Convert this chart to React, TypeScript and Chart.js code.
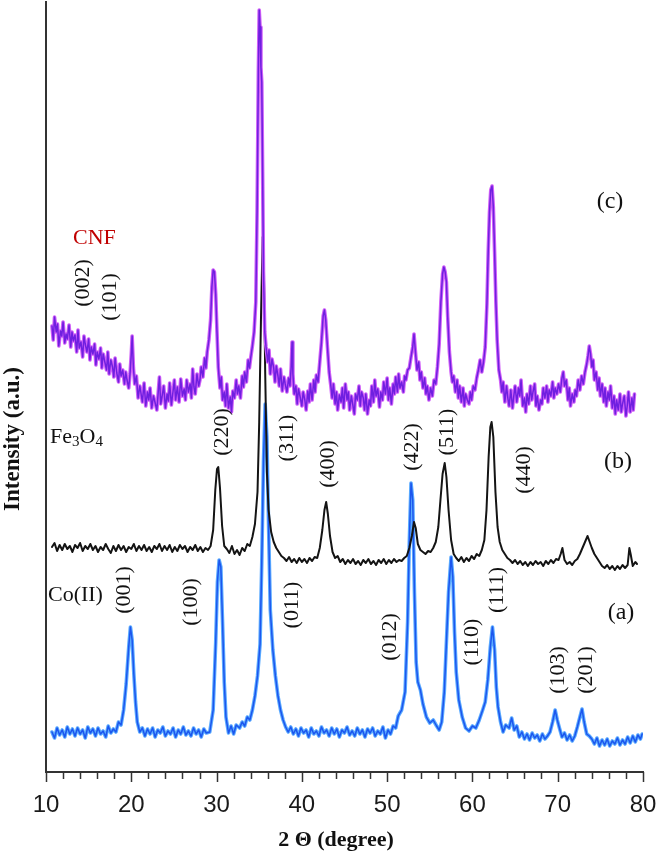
import React, { useEffect, useRef } from "react";
import { Chart, registerables } from "chart.js";

Chart.register(...registerables);

// ---- Data (2θ in degrees, intensity in arbitrary units) ----
const X_MIN = 10;
const X_MAX = 80;
const X_MAJOR = 10;
const X_MINOR = 2;
const Y_MIN = 0;
const Y_MAX = 770;

const coII: [number, number][] = [
  [10.7,40],[11.0,34],[11.3,44],[11.6,37],[11.9,42],[12.2,35],[12.5,45],[12.8,38],[13.1,43],[13.4,36],[13.7,44],[14.0,38],[14.3,42],[14.6,34],[14.9,45],[15.2,39],[15.5,43],[15.8,36],[16.1,44],[16.4,38],[16.7,41],[17.0,35],[17.3,46],[17.6,39],[17.9,43],[18.2,40],[18.5,50],[18.8,47],[19.1,62],[19.4,88],[19.7,125],[19.9,145],[20.1,132],[20.3,98],[20.5,70],[20.7,50],[21.0,40],[21.3,44],[21.6,36],[21.9,43],[22.2,38],[22.5,44],[22.8,35],[23.1,42],[23.4,39],[23.7,45],[24.0,36],[24.3,41],[24.6,38],[24.9,44],[25.2,35],[25.5,42],[25.8,38],[26.1,45],[26.4,37],[26.7,41],[27.0,36],[27.3,44],[27.6,38],[27.9,42],[28.2,35],[28.5,43],[28.8,39],[29.2,40],[29.6,62],[29.9,130],[30.1,190],[30.3,212],[30.5,205],[30.7,150],[30.9,90],[31.1,55],[31.4,39],[31.7,46],[32.0,38],[32.3,47],[32.7,44],[33.0,50],[33.3,46],[33.6,55],[33.9,52],[34.2,62],[34.5,76],[34.8,96],[35.1,128],[35.3,210],[35.5,310],[35.7,368],[35.9,335],[36.1,245],[36.3,162],[36.6,122],[36.9,96],[37.2,76],[37.5,62],[37.8,52],[38.1,45],[38.4,40],[38.7,45],[39.0,38],[39.3,43],[39.6,36],[39.9,44],[40.2,39],[40.5,42],[40.8,35],[41.1,44],[41.4,38],[41.7,41],[42.0,36],[42.3,45],[42.6,39],[42.9,42],[43.2,36],[43.5,44],[43.8,38],[44.1,43],[44.4,35],[44.7,42],[45.0,39],[45.3,45],[45.6,37],[45.9,41],[46.2,36],[46.5,44],[46.8,38],[47.1,42],[47.4,35],[47.7,43],[48.0,39],[48.3,44],[48.6,36],[48.9,41],[49.2,38],[49.5,45],[49.8,34],[50.1,42],[50.4,38],[50.7,46],[51.0,44],[51.3,56],[51.7,62],[52.1,80],[52.4,150],[52.6,230],[52.8,289],[53.0,272],[53.2,180],[53.4,110],[53.6,90],[53.9,82],[54.2,68],[54.6,55],[55.0,49],[55.4,52],[55.8,46],[56.1,42],[56.4,50],[56.7,80],[56.9,120],[57.2,180],[57.5,215],[57.7,195],[57.9,140],[58.1,100],[58.4,72],[58.8,55],[59.2,44],[59.6,41],[60.0,46],[60.4,44],[60.8,52],[61.2,62],[61.5,70],[61.8,92],[62.1,125],[62.35,145],[62.6,122],[62.8,85],[63.0,65],[63.3,50],[63.6,40],[63.9,47],[64.3,44],[64.6,54],[64.9,42],[65.2,46],[65.5,35],[65.8,40],[66.1,33],[66.4,38],[66.7,32],[67.0,39],[67.3,34],[67.6,37],[67.9,31],[68.2,38],[68.5,33],[68.8,36],[69.1,40],[69.4,50],[69.7,62],[69.95,52],[70.2,44],[70.5,35],[70.8,39],[71.1,32],[71.4,37],[71.7,31],[72.0,36],[72.3,45],[72.6,55],[72.85,63],[73.1,50],[73.4,38],[73.7,36],[74.0,33],[74.3,28],[74.6,34],[74.9,26],[75.2,32],[75.5,27],[75.8,33],[76.1,26],[76.4,31],[76.7,28],[77.0,34],[77.3,27],[77.6,32],[77.9,28],[78.2,35],[78.5,29],[78.8,36],[79.1,30],[79.4,37],[79.7,33],[79.9,38]
];

const fe3o4: [number, number][] = [
  [10.7,225],[11.0,229],[11.3,221],[11.6,227],[11.9,222],[12.2,228],[12.5,223],[12.8,226],[13.1,220],[13.4,227],[13.7,224],[14.0,229],[14.3,221],[14.6,226],[14.9,223],[15.2,228],[15.5,222],[15.8,226],[16.1,220],[16.4,225],[16.7,222],[17.0,228],[17.3,223],[17.6,219],[17.9,226],[18.2,221],[18.5,227],[18.8,222],[19.1,226],[19.4,220],[19.7,225],[20.0,223],[20.3,228],[20.6,221],[20.9,226],[21.2,222],[21.5,227],[21.8,221],[22.1,225],[22.4,220],[22.7,226],[23.0,223],[23.3,228],[23.6,221],[23.9,226],[24.2,222],[24.5,227],[24.8,220],[25.1,225],[25.4,221],[25.7,227],[26.0,223],[26.3,226],[26.6,220],[26.9,225],[27.2,222],[27.5,227],[27.8,221],[28.1,225],[28.4,220],[28.7,224],[29.0,222],[29.3,226],[29.6,242],[29.85,282],[30.05,303],[30.2,305],[30.4,284],[30.65,246],[30.9,226],[31.2,223],[31.5,219],[31.8,226],[32.1,218],[32.4,222],[32.7,217],[33.0,224],[33.3,221],[33.6,228],[33.9,226],[34.2,235],[34.5,248],[34.8,280],[35.0,350],[35.2,450],[35.4,535],[35.55,500],[35.7,400],[35.9,300],[36.1,262],[36.4,240],[36.7,230],[37.0,224],[37.3,220],[37.6,216],[37.9,214],[38.2,211],[38.5,215],[38.8,210],[39.1,213],[39.4,209],[39.7,214],[40.0,210],[40.3,213],[40.6,209],[40.9,214],[41.2,211],[41.5,215],[41.8,214],[42.1,224],[42.4,242],[42.65,262],[42.85,270],[43.05,258],[43.3,236],[43.6,220],[43.9,214],[44.2,216],[44.5,210],[44.8,213],[45.1,208],[45.4,212],[45.7,209],[46.0,213],[46.3,208],[46.6,211],[46.9,207],[47.2,212],[47.5,209],[47.8,213],[48.1,208],[48.4,211],[48.7,207],[49.0,212],[49.3,209],[49.6,213],[49.9,208],[50.2,212],[50.5,209],[50.8,213],[51.1,210],[51.4,212],[51.7,211],[52.0,214],[52.3,216],[52.6,224],[52.9,236],[53.15,250],[53.35,244],[53.6,228],[53.9,222],[54.2,220],[54.5,218],[54.8,221],[55.1,220],[55.4,224],[55.7,230],[56.0,245],[56.25,272],[56.5,298],[56.75,309],[56.95,295],[57.2,262],[57.5,232],[57.8,218],[58.1,214],[58.4,211],[58.7,215],[59.0,210],[59.3,214],[59.6,211],[59.9,216],[60.2,213],[60.5,218],[60.8,216],[61.1,222],[61.4,232],[61.65,262],[61.9,315],[62.1,345],[62.25,350],[62.45,335],[62.7,280],[62.95,245],[63.2,230],[63.5,222],[63.8,218],[64.1,214],[64.4,212],[64.7,209],[65.0,212],[65.3,208],[65.6,211],[65.9,207],[66.2,210],[66.5,206],[66.8,210],[67.1,207],[67.4,211],[67.7,208],[68.0,210],[68.3,206],[68.6,211],[68.9,208],[69.2,212],[69.5,209],[69.8,213],[70.1,212],[70.35,218],[70.55,224],[70.8,212],[71.1,208],[71.4,210],[71.7,207],[72.0,211],[72.3,213],[72.6,218],[72.9,224],[73.2,230],[73.5,236],[73.75,230],[74.0,224],[74.3,218],[74.6,214],[74.9,210],[75.2,206],[75.5,204],[75.8,207],[76.1,203],[76.4,206],[76.7,202],[77.0,206],[77.3,203],[77.6,207],[77.9,204],[78.2,207],[78.4,224],[78.55,218],[78.8,206],[79.1,210],[79.3,208]
];

const cnf: [number, number][] = [
  [10.7,446],[10.85,432],[11.0,455],[11.2,440],[11.35,448],[11.5,426],[11.7,441],[11.85,436],[12.0,450],[12.2,429],[12.35,438],[12.5,433],[12.7,447],[12.9,425],[13.05,440],[13.2,431],[13.4,437],[13.6,420],[13.75,442],[13.9,424],[14.1,430],[14.3,415],[14.45,436],[14.6,428],[14.8,420],[15.0,433],[15.15,412],[15.3,425],[15.5,418],[15.7,428],[15.85,407],[16.0,420],[16.2,413],[16.4,424],[16.55,404],[16.7,418],[16.9,410],[17.1,402],[17.25,420],[17.4,398],[17.6,412],[17.8,405],[17.95,395],[18.1,414],[18.3,399],[18.5,390],[18.65,408],[18.8,396],[19.0,402],[19.2,388],[19.35,400],[19.5,392],[19.7,384],[19.85,398],[20.0,418],[20.1,436],[20.25,404],[20.4,388],[20.6,396],[20.8,374],[21.0,386],[21.15,378],[21.3,370],[21.5,389],[21.7,366],[21.9,380],[22.05,372],[22.2,384],[22.4,364],[22.6,376],[22.8,369],[23.0,362],[23.15,379],[23.3,395],[23.45,368],[23.6,375],[23.8,386],[24.0,364],[24.2,378],[24.35,371],[24.5,389],[24.7,367],[24.9,381],[25.05,392],[25.2,372],[25.4,385],[25.6,370],[25.8,393],[26.0,376],[26.2,383],[26.35,372],[26.5,392],[26.7,380],[26.9,388],[27.05,374],[27.2,403],[27.35,385],[27.5,378],[27.7,398],[27.9,386],[28.05,392],[28.2,405],[28.4,395],[28.6,414],[28.75,404],[28.9,420],
  [29.1,432],[29.3,452],[29.45,485],[29.6,502],[29.75,500],[29.9,478],[30.05,440],[30.2,405],[30.4,384],[30.55,395],[30.7,372],[30.9,380],[31.05,366],[31.2,388],[31.4,364],[31.6,375],[31.75,360],[31.9,381],[32.1,374],[32.3,392],[32.45,378],[32.6,386],[32.8,374],[33.0,396],[33.15,385],[33.3,400],[33.5,390],[33.7,412],[33.85,404],[34.0,414],[34.2,426],[34.4,440],[34.6,470],[34.75,560],[34.9,700],[35.0,762],[35.1,745],[35.2,705],[35.3,690],[35.4,600],[35.5,500],[35.65,440],
  [35.8,425],[36.0,410],[36.15,422],[36.3,398],[36.5,413],[36.7,404],[36.85,390],[37.0,406],[37.2,396],[37.35,386],[37.5,403],[37.7,381],[37.9,395],[38.05,388],[38.25,380],[38.45,394],[38.6,386],[38.75,405],[38.85,430],[38.95,398],[39.1,378],[39.3,386],[39.45,368],[39.6,383],[39.8,375],[40.0,366],[40.15,380],[40.35,372],[40.5,362],[40.7,381],[40.85,370],[41.0,388],[41.2,372],[41.4,392],[41.55,380],[41.7,397],[41.9,390],[42.1,410],[42.3,430],[42.5,456],[42.65,462],[42.8,452],[43.0,425],
  [43.2,400],[43.4,386],[43.55,374],[43.7,388],[43.9,368],[44.05,380],[44.2,362],[44.4,377],[44.6,370],[44.75,384],[44.9,364],[45.1,388],[45.3,372],[45.45,380],[45.6,362],[45.8,376],[46.0,366],[46.15,358],[46.3,378],[46.5,372],[46.7,386],[46.85,366],[47.0,380],[47.2,374],[47.35,362],[47.5,378],[47.7,358],[47.9,372],[48.05,366],[48.2,386],[48.4,370],[48.55,392],[48.7,376],[48.9,383],[49.1,365],[49.25,380],[49.45,372],[49.6,390],[49.8,378],[50.0,394],[50.15,372],[50.3,384],[50.5,368],[50.7,388],[50.85,378],[51.0,395],[51.2,380],[51.35,398],[51.5,384],[51.7,390],[51.9,380],[52.05,396],[52.2,392],[52.4,402],[52.6,404],
  [52.8,415],[53.0,425],[53.15,438],[53.3,422],[53.5,402],[53.7,410],[53.85,392],[54.0,400],[54.2,384],[54.4,394],[54.55,378],[54.7,386],[54.9,372],[55.1,384],[55.3,376],[55.5,392],[55.7,388],[55.9,405],[56.1,428],[56.3,470],[56.5,498],[56.65,505],[56.8,500],[56.95,490],[57.1,455],[57.3,420],
  [57.5,400],[57.65,390],[57.8,396],[58.0,380],[58.2,392],[58.35,374],[58.5,386],[58.7,370],[58.9,384],[59.05,366],[59.2,378],[59.4,372],[59.6,368],[59.75,380],[59.9,372],[60.1,386],[60.3,382],[60.5,394],[60.7,402],[60.9,412],[61.1,400],[61.3,410],[61.5,425],[61.7,468],[61.85,520],[62.0,560],[62.15,582],[62.3,586],[62.45,565],[62.6,520],[62.75,470],[62.9,432],
  [63.1,402],[63.3,392],[63.45,380],[63.6,390],[63.8,370],[64.0,386],[64.15,374],[64.3,366],[64.5,382],[64.7,364],[64.85,376],[65.0,386],[65.2,370],[65.4,384],[65.55,376],[65.7,392],[65.9,366],[66.1,374],[66.25,360],[66.4,378],[66.6,368],[66.8,386],[66.95,372],[67.1,380],[67.3,388],[67.45,366],[67.6,376],[67.8,362],[68.0,372],[68.15,368],[68.3,384],[68.5,374],[68.7,386],[68.85,370],[69.0,382],[69.2,376],[69.4,390],[69.55,374],[69.7,384],[69.9,378],[70.1,388],[70.3,380],[70.5,394],[70.65,400],[70.8,386],[71.0,392],[71.2,372],[71.35,384],[71.5,366],[71.7,378],[71.9,370],[72.05,382],[72.2,376],[72.4,392],[72.6,382],[72.8,396],[73.0,388],[73.2,400],[73.4,408],[73.55,416],[73.7,426],[73.85,418],[74.0,405],[74.15,412],[74.3,392],[74.5,400],[74.7,382],[74.85,394],[75.0,376],[75.2,388],[75.4,370],[75.55,384],[75.7,366],[75.9,380],[76.05,372],[76.2,386],[76.4,364],[76.6,376],[76.75,358],[76.9,372],[77.1,362],[77.3,378],[77.45,360],[77.6,368],[77.8,376],[78.0,356],[78.15,366],[78.3,380],[78.5,360],[78.7,374],[78.85,362],[79.0,378]
];

// Miller-index annotations, placed in data coordinates (2θ, intensity)
const hklLabels: { text: string; x: number; y: number }[] = [
  { text: "(002)", x: 14.34, y: 489 },
  { text: "(101)", x: 17.5, y: 475 },
  { text: "(220)", x: 30.64, y: 340 },
  { text: "(311)", x: 38.26, y: 334 },
  { text: "(400)", x: 43.07, y: 308 },
  { text: "(422)", x: 52.91, y: 325 },
  { text: "(511)", x: 57.02, y: 340 },
  { text: "(440)", x: 66.05, y: 302 },
  { text: "(001)", x: 19.15, y: 182 },
  { text: "(100)", x: 27.0, y: 170 },
  { text: "(011)", x: 38.84, y: 167 },
  { text: "(012)", x: 50.33, y: 135 },
  { text: "(110)", x: 59.95, y: 130 },
  { text: "(111)", x: 62.88, y: 182 },
  { text: "(103)", x: 70.03, y: 102 },
  { text: "(201)", x: 73.32, y: 102 },
];

const panelLabels: { text: string; x: number; y: number }[] = [
  { text: "(c)", x: 76.13, y: 570 },
  { text: "(b)", x: 77.07, y: 310 },
  { text: "(a)", x: 77.42, y: 159 },
];

const sampleLabels: { parts: { t: string; sub?: boolean }[]; x: number; y: number; color: string }[] = [
  { parts: [{ t: "CNF" }], x: 13.17, y: 535, color: "#c00000" },
  { parts: [{ t: "Fe" }, { t: "3", sub: true }, { t: "O" }, { t: "4", sub: true }], x: 10.47, y: 336, color: "#111" },
  { parts: [{ t: "Co(II)" }], x: 10.23, y: 178, color: "#111" },
];

const X_TITLE = "2 \u0398 (degree)";
const Y_TITLE = "Intensity (a.u.)";

const SERIF = '"Liberation Serif", "Times New Roman", serif';

const toXY = (arr: [number, number][]) => arr.map(([x, y]) => ({ x, y }));

const overlayPlugin = {
  id: "overlayPlugin",
  afterDraw(chart: any) {
    const { ctx, chartArea } = chart;
    const xs = chart.scales.x;
    const ys = chart.scales.y;
    const bottom = chartArea.bottom;
    ctx.save();
    // tick marks (major & minor)
    ctx.strokeStyle = "#333";
    ctx.lineWidth = 1.5;
    for (let v = X_MIN; v <= X_MAX + 1e-6; v += X_MINOR) {
      const px = Math.round(xs.getPixelForValue(v)) + 0.5;
      const major = Math.abs(v % X_MAJOR) < 1e-6;
      ctx.beginPath();
      ctx.moveTo(px, bottom);
      ctx.lineTo(px, bottom + (major ? 10 : 7));
      ctx.stroke();
    }
    // Miller indices (rotated)
    ctx.fillStyle = "#111";
    ctx.font = `22px ${SERIF}`;
    ctx.textAlign = "center";
    ctx.textBaseline = "middle";
    for (const l of hklLabels) {
      const px = xs.getPixelForValue(l.x);
      const py = ys.getPixelForValue(l.y);
      ctx.save();
      ctx.translate(px, py);
      ctx.rotate(-Math.PI / 2);
      ctx.fillText(l.text, 0, 0);
      ctx.restore();
    }
    // panel labels
    ctx.font = `24px ${SERIF}`;
    for (const l of panelLabels) {
      ctx.fillText(l.text, xs.getPixelForValue(l.x), ys.getPixelForValue(l.y));
    }
    // sample labels with subscripts
    ctx.textAlign = "left";
    ctx.textBaseline = "alphabetic";
    for (const s of sampleLabels) {
      let px = xs.getPixelForValue(s.x);
      const py = ys.getPixelForValue(s.y) + 7;
      ctx.fillStyle = s.color;
      for (const p of s.parts) {
        ctx.font = p.sub ? `15px ${SERIF}` : `22px ${SERIF}`;
        ctx.fillText(p.t, px, p.sub ? py + 3 : py);
        px += ctx.measureText(p.t).width;
      }
    }
    // axis titles
    ctx.fillStyle = "#111";
    ctx.font = `bold 22px ${SERIF}`;
    ctx.textAlign = "center";
    ctx.textBaseline = "middle";
    ctx.fillText(X_TITLE, xs.getPixelForValue(44.0), bottom + 68);
    ctx.save();
    ctx.translate(13, ys.getPixelForValue(333));
    ctx.rotate(-Math.PI / 2);
    ctx.font = `bold 23px ${SERIF}`;
    ctx.fillText(Y_TITLE, 0, 0);
    ctx.restore();
    ctx.restore();
  },
};

export default function App() {
  const canvasRef = useRef<HTMLCanvasElement | null>(null);
  useEffect(() => {
    document.body.style.margin = "0";
    const canvas = canvasRef.current;
    if (!canvas) return;
    const base = {
      pointRadius: 0,
      tension: 0,
      fill: false,
      borderJoinStyle: "round" as const,
      borderCapStyle: "round" as const,
    };
    const chart = new Chart(canvas, {
      type: "line",
      data: {
        datasets: [
          { ...base, label: "CNF", data: toXY(cnf), borderColor: "#6f1fe0", borderWidth: 1.5, order: 0 },
          { ...base, label: "CNF halo", data: toXY(cnf), borderColor: "#d060f8", borderWidth: 3.6, order: 1 },
          { ...base, label: "Fe3O4", data: toXY(fe3o4), borderColor: "#141414", borderWidth: 2, order: 2 },
          { ...base, label: "Co(II)", data: toXY(coII), borderColor: "#1c56ee", borderWidth: 1.5, order: 3 },
          { ...base, label: "Co(II) halo", data: toXY(coII), borderColor: "#5aaaff", borderWidth: 3.6, order: 4 },
        ],
      },
      options: {
        responsive: false,
        animation: false,
        devicePixelRatio: 1,
        layout: { padding: { top: 2, right: 17, left: 0, bottom: 0 } },
        plugins: { legend: { display: false }, tooltip: { enabled: false } },
        scales: {
          x: {
            type: "linear",
            min: X_MIN,
            max: X_MAX,
            ticks: {
              stepSize: X_MAJOR,
              color: "#1a1a1a",
              font: { family: '"Liberation Sans", Arial, sans-serif', size: 24 },
              padding: 19,
              maxRotation: 0,
            },
            grid: { display: false, drawTicks: false },
            border: { display: true, color: "#333", width: 2 },
            afterFit: (s: any) => {
              s.height = 80;
              s.paddingLeft = 0;
              s.paddingRight = 0;
            },
          },
          y: {
            type: "linear",
            min: Y_MIN,
            max: Y_MAX,
            ticks: { display: false },
            grid: { display: false, drawTicks: false },
            border: { display: true, color: "#333", width: 2 },
            afterFit: (s: any) => { s.width = 46; },
          },
        },
      },
      plugins: [overlayPlugin],
    } as any);
    return () => chart.destroy();
  }, []);
  return (
    <div style={{ position: "absolute", left: 0, top: 0, width: 660, height: 852 }}>
      <canvas ref={canvasRef} width={660} height={852} style={{ display: "block" }} />
    </div>
  );
}
